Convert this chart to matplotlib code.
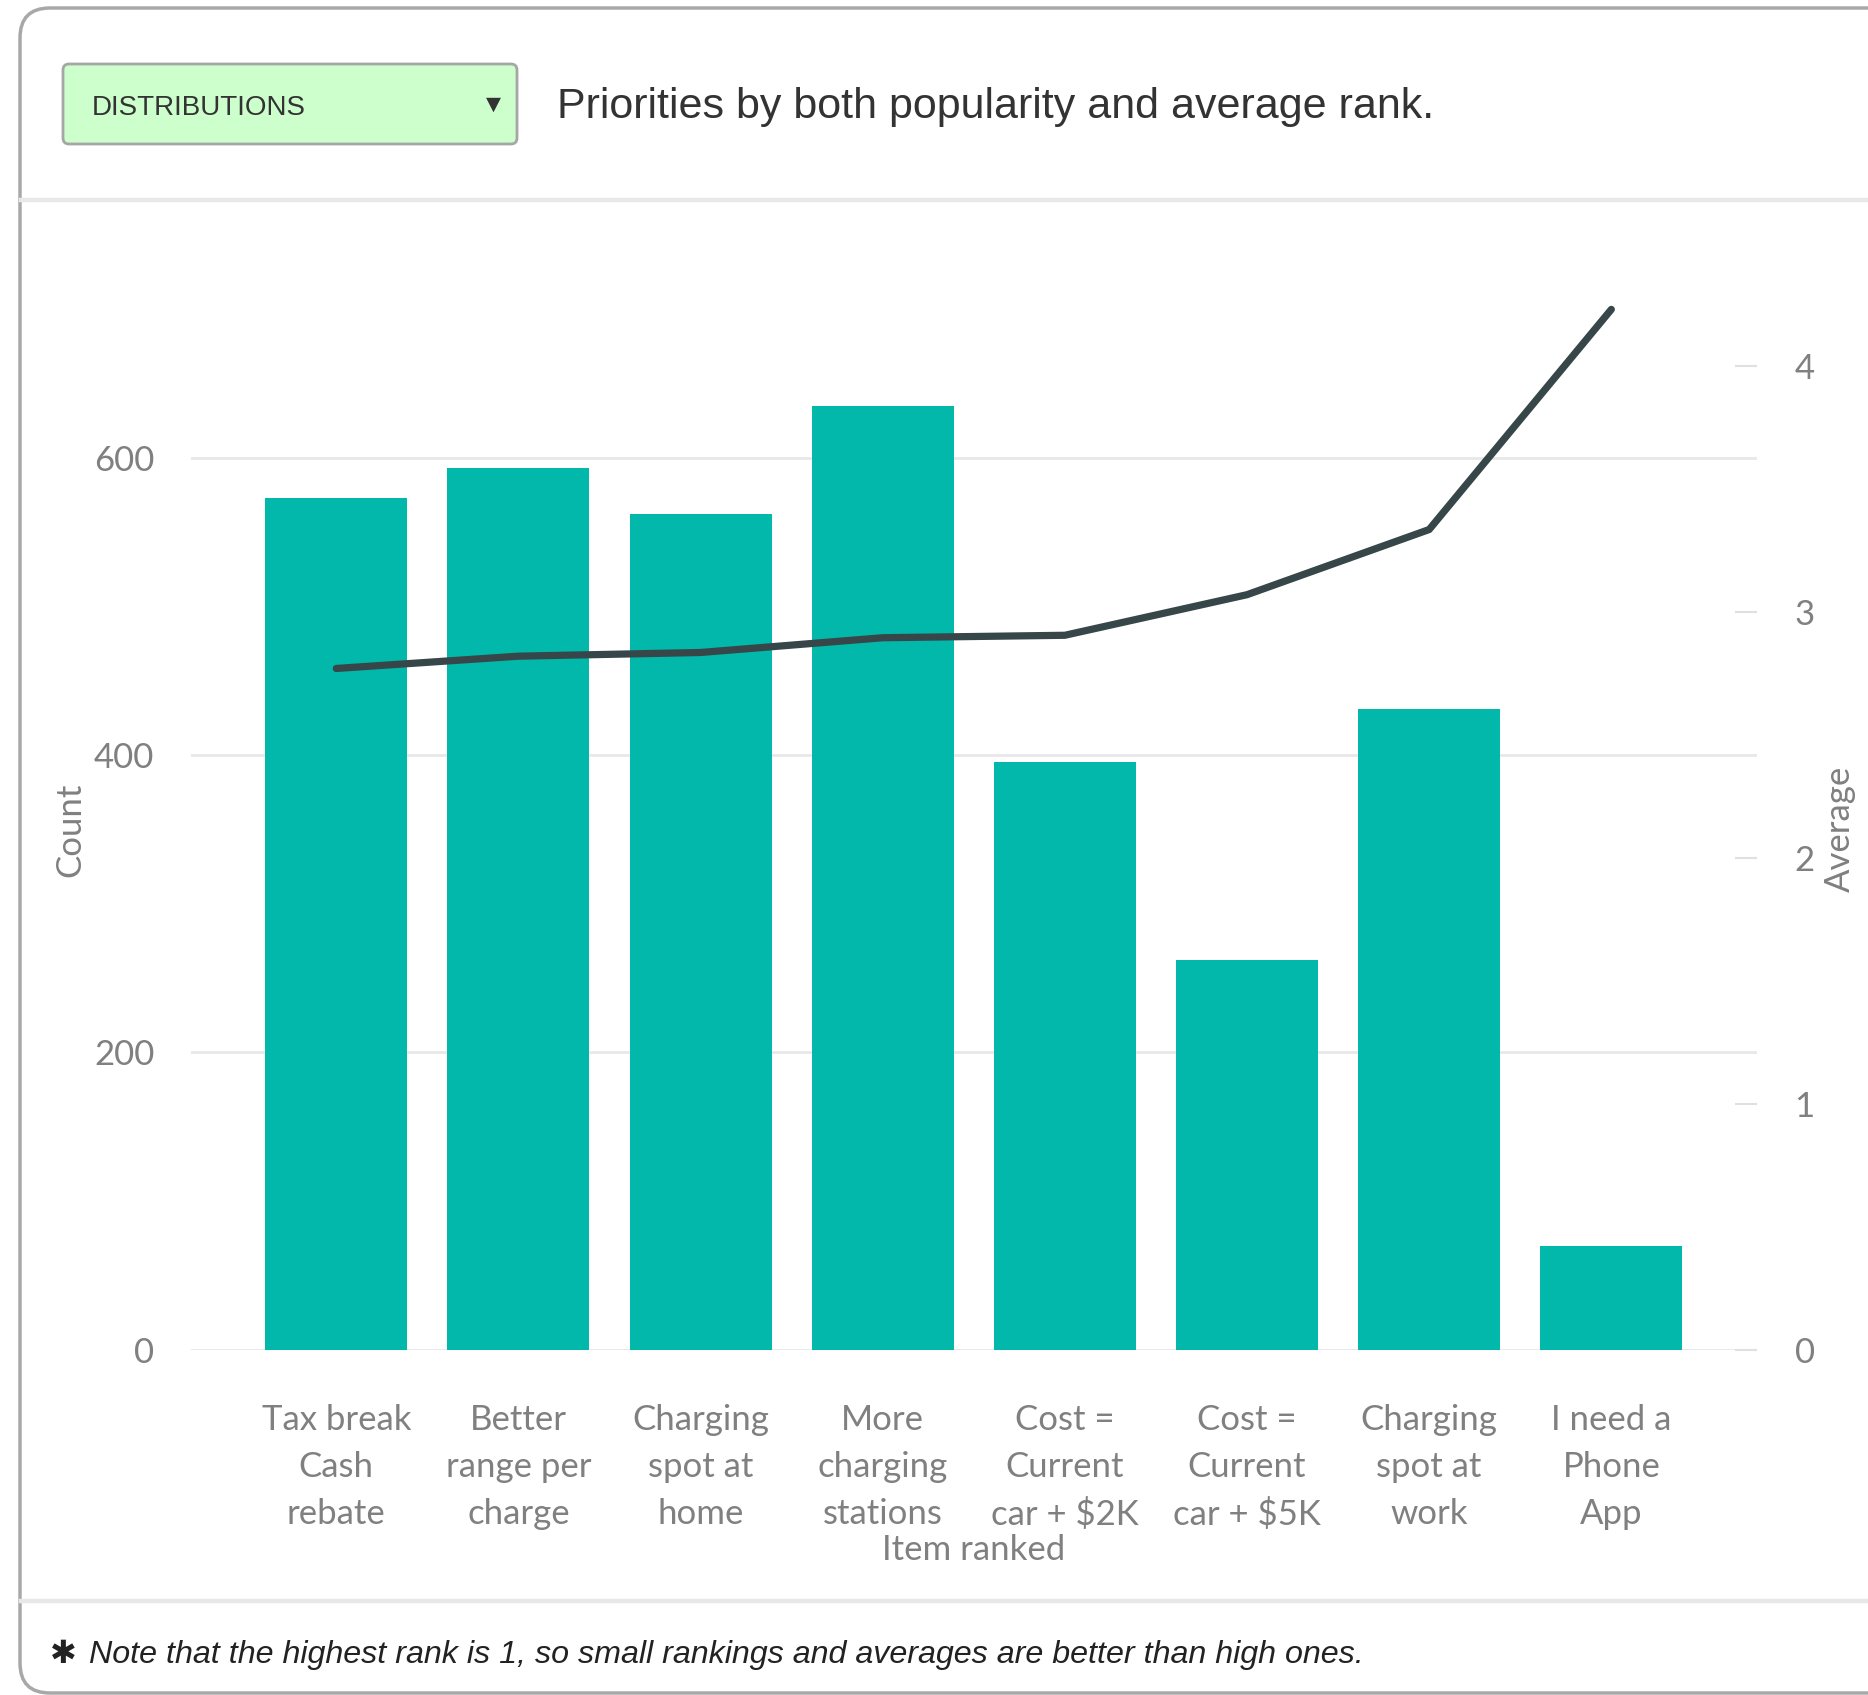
import numpy as np
import matplotlib.pyplot as plt
from matplotlib.patches import FancyBboxPatch
from matplotlib.lines import Line2D

plt.rcParams['font.family'] = ['Lato', 'DejaVu Sans']

# survey results: how many ranked each item, and its average rank
items = ['Tax break\nCash\nrebate', 'Better\nrange per\ncharge', 'Charging\nspot at\nhome',
         'More\ncharging\nstations', 'Cost =\nCurrent\ncar + $2K', 'Cost =\nCurrent\ncar + $5K',
         'Charging\nspot at\nwork', 'I need a\nPhone\nApp']
counts = [573, 593, 562, 635, 395, 262, 431, 70]
averages = [2.77, 2.82, 2.835, 2.895, 2.905, 3.07, 3.335, 4.23]
count_ticks = [0, 200, 400, 600]
avg_ticks = [0, 1, 2, 3, 4]

BAR = '#01b8aa'
LINE = '#374649'
GREY = '#808080'
GRID = '#e8e8e8'
HEAD = ['Liberation Sans', 'DejaVu Sans']
AX_FONT = dict(fontsize=25, color=GREY)

fig = plt.figure(figsize=(18.68, 16.95), dpi=100)
inch = fig.dpi_scale_trans

# card frame, header and footer separators
fig.add_artist(FancyBboxPatch((0.20, 0.02), 20.0, 16.85,
                              boxstyle='round,pad=0,rounding_size=0.3', transform=inch,
                              fc='white', ec='#a8a8a8', lw=2.5, zorder=-2))
fig.add_artist(Line2D([0.21, 19], [14.95, 14.95], transform=inch, color=GRID, lw=3.2, zorder=-1))
fig.add_artist(Line2D([0.21, 19], [0.94, 0.94], transform=inch, color=GRID, lw=3.2, zorder=-1))

# dropdown + heading
fig.add_artist(FancyBboxPatch((0.63, 15.51), 4.54, 0.80,
                              boxstyle='round,pad=0,rounding_size=0.06', transform=inch,
                              fc='#ccffcc', ec='#a6a6a6', lw=2, zorder=-1))
fig.text(0.92, 15.80, 'DISTRIBUTIONS', transform=inch, fontsize=20, color='#333333',
         family=HEAD, va='baseline')
fig.text(4.93, 15.91, '\u25bc', transform=inch, fontsize=14, color='#333333',
         family='DejaVu Sans', ha='center', va='center')
fig.text(5.57, 15.77, 'Priorities by both popularity and average rank.', transform=inch,
         fontsize=31, color='#333333', family=HEAD, va='baseline')

# footnote
fig.text(0.50, 0.32, '\u2731', transform=inch, fontsize=23, color='#222222',
         family='DejaVu Sans', va='baseline')
fig.text(0.89, 0.32, 'Note that the highest rank is 1, so small rankings and averages are better than high ones.',
         transform=inch, fontsize=23.2, color='#222222', family=HEAD, style='italic', va='baseline')

# bars on the left axis
ax = fig.add_axes([0.1020, 0.2037, 0.8386, 0.6140])
ax.patch.set_visible(False)
x = np.arange(len(items))
ax.bar(x, counts, width=0.78, color=BAR, zorder=2)
ax.set_xlim(-0.8, 7.8)
ax.set_ylim(0, 700)
ax.set_yticks(count_ticks)
ax.grid(axis='y', color=GRID, lw=2)
ax.set_axisbelow(True)
for s in ax.spines.values():
    s.set_visible(False)
ax.tick_params(axis='y', length=0, pad=26)
ax.tick_params(axis='x', length=0, pad=39)
ax.set_xticks(x)
ax.set_xticklabels(items, linespacing=1.57, **AX_FONT)
ax.set_yticklabels([str(t) for t in count_ticks], **AX_FONT)
ax.set_ylabel('Count', va='center', **AX_FONT)
ax.yaxis.set_label_coords(-0.077, 0.5)
ax.set_xlabel('Item ranked', va='center', **AX_FONT)
ax.xaxis.set_label_coords(0.5, -0.1925)

# average rank line on the right axis
ax2 = ax.twinx()
ax2.plot(x, averages, color=LINE, lw=5.2, solid_capstyle='round',
         solid_joinstyle='round', clip_on=False)
ax2.set_ylim(0, 700 / 165.42)
ax2.set_yticks(avg_ticks)
ax2.set_yticklabels([str(t) for t in avg_ticks], **AX_FONT)
ax2.tick_params(axis='y', direction='in', length=15.6, width=1.5, color='#e0e0e0', pad=27)
for s in ax2.spines.values():
    s.set_visible(False)
ax2.set_ylabel('Average', va='center', **AX_FONT)
ax2.yaxis.set_label_coords(1.053, 0.5)

fig.savefig('out.png', dpi=100)
